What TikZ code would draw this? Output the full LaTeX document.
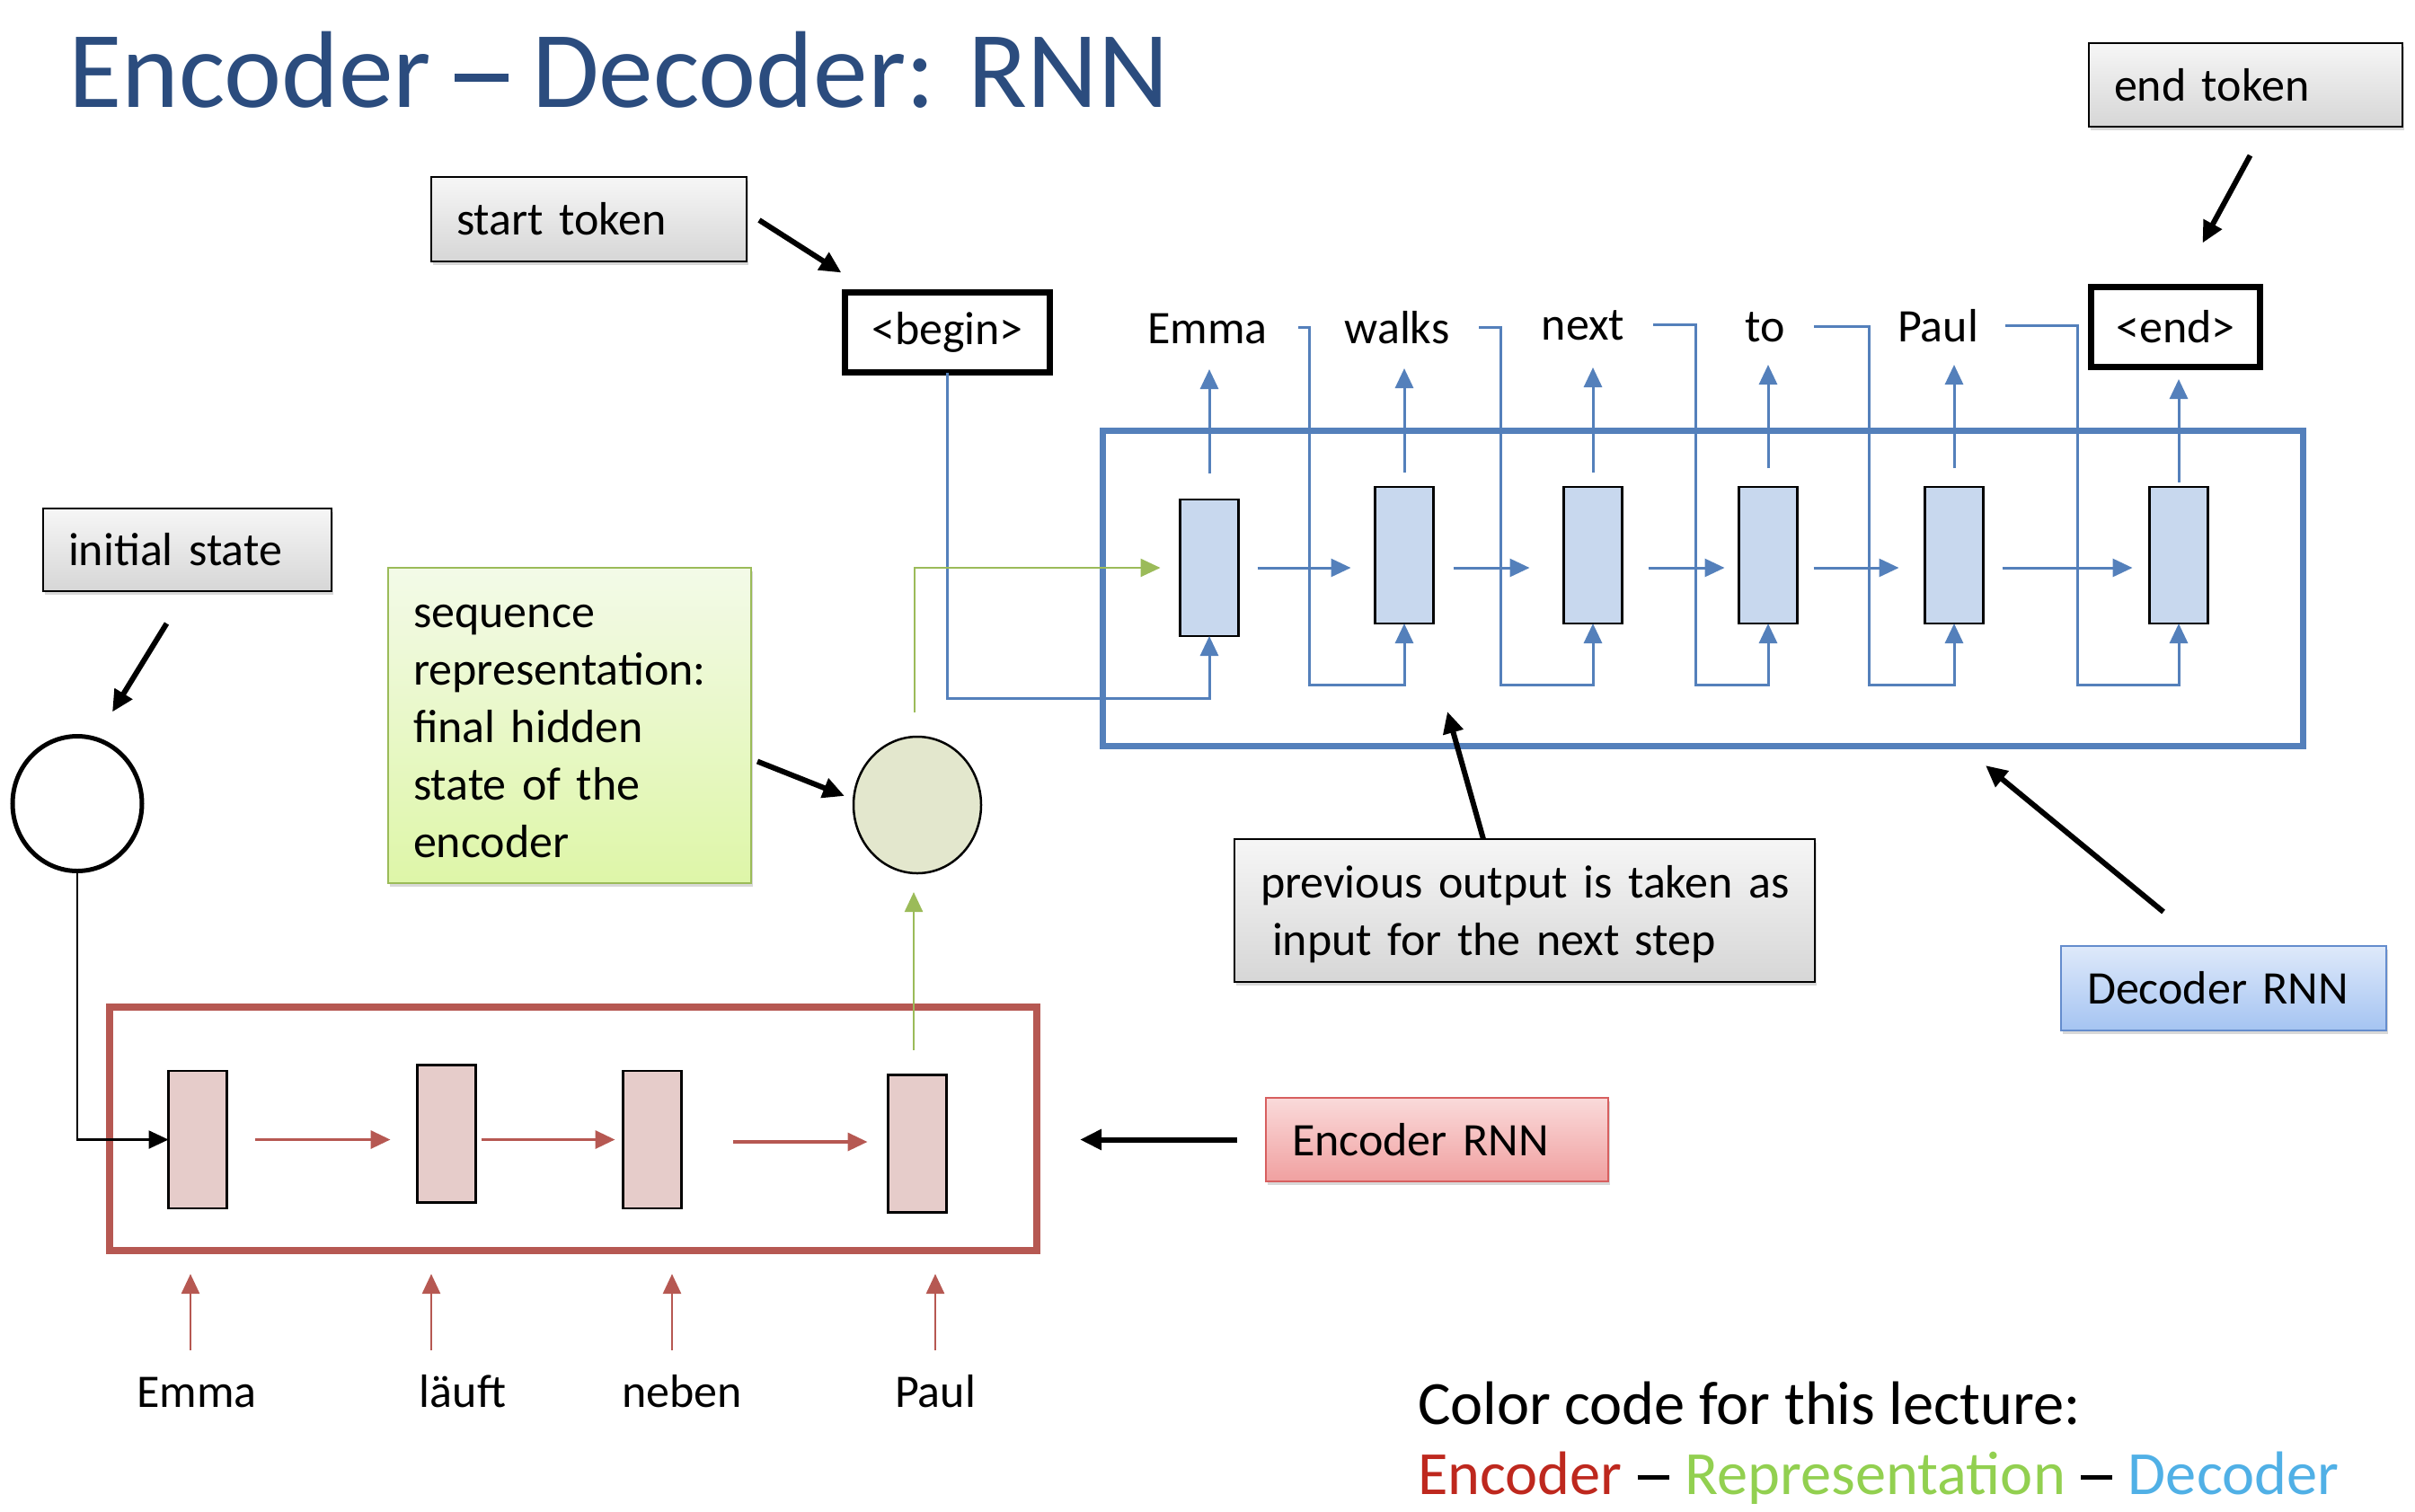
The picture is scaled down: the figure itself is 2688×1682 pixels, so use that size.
\documentclass[tikz,border=0pt]{standalone}
\usepackage{fontspec}
\setmainfont{Carlito}
\usetikzlibrary{arrows.meta,shadows,calc,shapes.geometric}
\definecolor{titleblue}{RGB}{43,76,126}
\definecolor{decblue}{RGB}{84,128,187}
\definecolor{decfill}{RGB}{200,216,238}
\definecolor{encred}{RGB}{182,88,82}
\definecolor{encfill}{RGB}{230,204,202}
\definecolor{repgreen}{RGB}{155,187,89}
\definecolor{repfill}{RGB}{227,231,205}
\definecolor{ccred}{RGB}{190,40,30}
\definecolor{ccgreen}{RGB}{146,208,80}
\definecolor{ccblue}{RGB}{80,176,230}
\begin{document}
\begin{tikzpicture}[x=1pt,y=-1pt,
  every node/.style={inner sep=0pt, outer sep=0pt, font=\fontsize{52}{64}\selectfont},
  shad/.style={drop shadow={shadow xshift=2pt,shadow yshift=-4pt,opacity=0.3}},
  graybox/.style={shad, draw=black, line width=2.5pt, top color=gray!7, bottom color=gray!32, anchor=north west, align=left, inner xsep=28pt},
  greenbox/.style={shad, draw=repgreen, line width=2.5pt, top color={rgb,255:red,243;green,250;blue,232}, bottom color={rgb,255:red,222;green,246;blue,168}, anchor=north west, align=left, inner xsep=28pt},
  bluebox/.style={shad, draw={rgb,255:red,100;green,140;blue,205}, line width=2.5pt, top color={rgb,255:red,222;green,233;blue,250}, bottom color={rgb,255:red,165;green,196;blue,242}, anchor=north west, align=left, inner xsep=29pt},
  redbox/.style={shad, draw={rgb,255:red,215;green,95;blue,95}, line width=2.5pt, top color={rgb,255:red,250;green,218;blue,218}, bottom color={rgb,255:red,240;green,160;blue,160}, anchor=north west, align=left, inner xsep=29pt},
  tokbox/.style={draw=black, line width=7pt, fill=white},
  dcell/.style={draw=black, line width=2.5pt, fill=decfill, minimum width=65pt, minimum height=152pt},
  ecell/.style={draw=black, line width=2.5pt, fill=encfill, minimum width=65pt, minimum height=153pt},
  barrow/.style={draw=decblue, line width=3pt, -{Triangle[length=22pt,width=20pt]}},
  rarrow/.style={draw=encred, line width=3.5pt, -{Triangle[length=22pt,width=20pt]}},
  garrow/.style={draw=repgreen, line width=2.5pt, -{Triangle[length=22pt,width=20pt]}},
  karrow/.style={draw=black, line width=6pt, -{Triangle[length=24pt,width=22pt]}},
  kline/.style={draw=black, line width=2.5pt, -{Triangle[length=22pt,width=20pt]}},
  word/.style={anchor=base}
]
\useasboundingbox (0,0) rectangle (2688,1682);
\fill[white] (0,0) rectangle (2688,1682);

% title
\node[anchor=base west, text=titleblue, font=\fontsize{121.5}{140}\selectfont] (title) at (76,119) {Encoder\hspace{26pt}\rule[28pt]{60pt}{9pt}\hspace{26pt}Decoder: RNN};

% frames
\node[draw=decblue, line width=7pt, minimum width=1336pt, minimum height=351pt, anchor=north west] (decframe) at (1227,479) {};
\node[draw=encred, line width=8pt, minimum width=1032pt, minimum height=271pt, anchor=north west] (encframe) at (122,1121) {};

% decoder cells
\node[dcell] (d1) at (1346,632) {};
\node[dcell] (d2) at (1563,618) {};
\node[dcell] (d3) at (1773,618) {};
\node[dcell] (d4) at (1968,618) {};
\node[dcell] (d5) at (2175,618) {};
\node[dcell] (d6) at (2425,618) {};

% encoder cells
\node[ecell] (e1) at (220,1268.5) {};
\node[ecell] (e2) at (497,1262) {};
\node[ecell] (e3) at (726,1268.5) {};
\node[ecell] (e4) at (1021,1273) {};

% circles
\node[ellipse, draw=black, line width=5pt, fill=white, minimum width=144pt, minimum height=150pt] (init) at (86,894.5) {};
\node[ellipse, draw=black, line width=2.5pt, fill=repfill, minimum width=142pt, minimum height=152pt] (rep) at (1021,896) {};

% token boxes
\node[tokbox, minimum width=228pt, minimum height=89pt] (begin) at (1054.5,370) {<begin>};
\node[tokbox, minimum width=188pt, minimum height=89pt] (end) at (2421.5,364) {<end>};

% output words
\node[word] (o1) at (1344,382) {Emma};
\node[word] (o2) at (1555,382) {walks};
\node[word] (o3) at (1762,378) {next};
\node[word] (o4) at (1965,380) {to};
\node[word] (o5) at (2157,380) {Paul};

% input words
\node[word] (i1) at (219,1566) {Emma};
\node[word] (i2) at (515,1566) {läuft};
\node[word] (i3) at (759,1566) {neben};
\node[word] (i4) at (1041,1566) {Paul};

% annotation boxes
\node[graybox, text width=295pt, minimum height=94pt] (start) at (480,197) {start token};
\node[graybox, text width=293pt, minimum height=93pt] (endtok) at (2325,48) {end token};
\node[graybox, text width=265pt, minimum height=92pt] (initial) at (48,566) {initial state};
\node[graybox, text width=588pt, minimum height=159pt, inner xsep=29pt] (prev) at (1374,934) {\rule{0pt}{44pt}\mbox{previous output is taken as}\\\mbox{\hspace*{13pt}input for the next step}};
\node[greenbox, text width=348pt, minimum height=351pt] (seq) at (432,632) {\rule{0pt}{38pt}sequence\\representation:\\final hidden\\state of the\\encoder};
\node[bluebox, text width=304pt, minimum height=94pt] (decrnn) at (2294,1053) {Decoder RNN};
\node[redbox, text width=323pt, minimum height=93pt] (encrnn) at (1409,1222) {Encoder RNN};

% decoder recurrent arrows
\coordinate (hy) at (0,632);
\draw[barrow] ($(d1.east |- hy)+(21,0)$) -- ($(d2.west |- hy)+(-27,0)$);
\draw[barrow] ($(d2.east |- hy)+(22,0)$) -- ($(d3.west |- hy)+(-38,0)$);
\draw[barrow] ($(d3.east |- hy)+(29,0)$) -- ($(d4.west |- hy)+(-16,0)$);
\draw[barrow] ($(d4.east |- hy)+(18,0)$) -- ($(d5.west |- hy)+(-29,0)$);
\draw[barrow] ($(d5.east |- hy)+(21,0)$) -- ($(d6.west |- hy)+(-19,0)$);

% decoder outputs
\draw[barrow] ([yshift=29pt]d1.north) -- ++(0,-116);
\draw[barrow] ([yshift=16pt]d2.north) -- ++(0,-116);
\draw[barrow] ([yshift=16pt]d3.north) -- ++(0,-117);
\draw[barrow] ([yshift=21pt]d4.north) -- ++(0,-115);
\draw[barrow] ([yshift=21pt]d5.north) -- ++(0,-115);
\draw[barrow] ([yshift=5pt]d6.north) -- ++(0,-115);

% feedback
\draw[barrow] (begin.south) |- ($(d1.south)+(0,69)$) -- (d1.south);
\coordinate (f1) at (1445,364);
\coordinate (f2) at (1646,364);
\coordinate (f3) at (1840,361);
\coordinate (f4) at (2019,363);
\coordinate (f5) at (2232,362);
\draw[barrow] (f1) -- ++(12,0) |- ($(d2.south)+(0,68)$) -- (d2.south);
\draw[barrow] (f2) -- ++(24,0) |- ($(d3.south)+(0,68)$) -- (d3.south);
\draw[barrow] (f3) -- ++(47,0) |- ($(d4.south)+(0,68)$) -- (d4.south);
\draw[barrow] (f4) -- ++(61,0) |- ($(d5.south)+(0,68)$) -- (d5.south);
\draw[barrow] (f5) -- ++(80,0) |- ($(d6.south)+(0,68)$) -- (d6.south);

% green representation
\draw[garrow] ($(rep.north)+(-3,-27)$) |- ($(d1.west |- hy)+(-22,0)$);
\draw[garrow] ($(e4.north)+(-4,-28)$) -- ($(rep.south)+(-4,21)$);

% encoder arrows
\draw[rarrow] ($(e1.east)+(31,0)$) -- ($(e2.west |- e1.east)+(-30,0)$);
\draw[rarrow] ($(e2.east |- e1.east)+(6,0)$) -- ($(e3.west)+(-9,0)$);
\draw[rarrow] ($(e3.east)+(57,2.5)$) -- ($(e4.west)+(-23,-2)$);
\draw[kline] (init.south) |- (e1.west);

% inputs
\coordinate (u1) at (212,1503);
\coordinate (u2) at (480,1503);
\coordinate (u3) at (748,1503);
\coordinate (u4) at (1041,1503);
\draw[rarrow, line width=2.5pt] (u1) -- ++(0,-85);
\draw[rarrow, line width=2.5pt] (u2) -- ++(0,-85);
\draw[rarrow, line width=2.5pt] (u3) -- ++(0,-85);
\draw[rarrow, line width=2.5pt] (u4) -- ++(0,-85);

% annotation arrows
\draw[karrow] ($(start.east)+(14,1)$) -- ($(begin.north west)+(-4,-22)$);
\draw[karrow] ($(endtok.south)+(5,32)$) -- ($(end.north)+(30,-49)$);
\draw[karrow] ($(initial.south)+(-23,36)$) -- ($(init.north)+(39,-27)$);
\draw[karrow] ($(seq.east)+(7,40)$) -- ($(rep.west)+(-10,-10)$);
\draw[karrow] ($(prev.north)+(-46,0)$) -- ($(prev.north)+(-86,-142)$);
\draw[karrow] ($(decrnn.north)+(-67,-38)$) -- ($(decframe.south)+(315,22)$);
\draw[karrow] ($(encrnn.west)+(-32,0)$) -- ($(encrnn.west)+(-207,0)$);

% colour code
\node[anchor=base west, font=\fontsize{68.4}{80}\selectfont] (cc1) at (1578,1585) {Color code for this lecture:};
\node[anchor=base west, font=\fontsize{68.4}{80}\selectfont] (cc2) at (1578,1663) {\textcolor{ccred}{Encoder}\hspace{17pt}\rule[16pt]{35pt}{5pt}\hspace{18pt}\textcolor{ccgreen}{Representation}\hspace{17pt}\rule[16pt]{35pt}{5pt}\hspace{18pt}\textcolor{ccblue}{Decoder}};
\end{tikzpicture}
\end{document}
